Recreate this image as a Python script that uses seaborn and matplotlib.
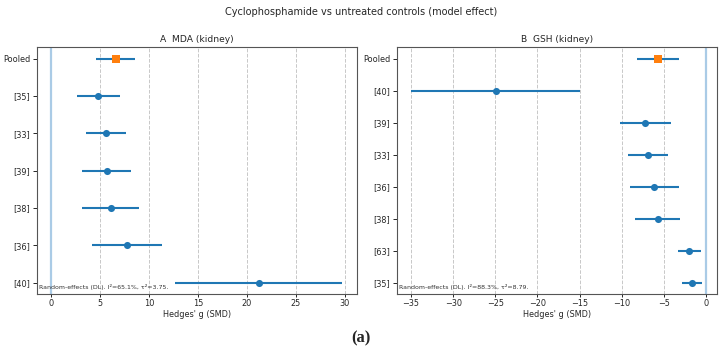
import matplotlib
matplotlib.use("Agg")
import matplotlib.pyplot as plt
import seaborn as sns
import pandas as pd

sns.set_style("ticks")
plt.rcParams['font.family'] = ['DejaVu Sans']

# Panel A: MDA (kidney)
a_labels = ["Pooled", "[35]", "[33]", "[39]", "[38]", "[36]", "[40]"]
a_g = [6.6, 4.83, 5.6, 5.7, 6.1, 7.75, 21.2]
a_lo = [4.6, 2.7, 3.6, 3.2, 3.2, 4.2, 12.65]
a_hi = [8.6, 7.0, 7.65, 8.2, 8.95, 11.3, 29.7]
a_note = "Random-effects (DL). I²=65.1%, τ²=3.75."

# Panel B: GSH (kidney)
b_labels = ["Pooled", "[40]", "[39]", "[33]", "[36]", "[38]", "[63]", "[35]"]
b_g = [-5.69, -24.96, -7.19, -6.83, -6.12, -5.73, -1.97, -1.62]
b_lo = [-8.14, -35.0, -10.19, -9.2, -8.97, -8.41, -3.28, -2.8]
b_hi = [-3.16, -14.97, -4.15, -4.46, -3.24, -3.04, -0.63, -0.43]
b_note = "Random-effects (DL). I²=88.3%, τ²=8.79."

a_ticks = [0, 5, 10, 15, 20, 25, 30]
b_ticks = [-35, -30, -25, -20, -15, -10, -5, 0]

BLUE = "#1f77b4"
ORANGE = "#ff7f0e"

fig, axes = plt.subplots(1, 2, figsize=(7.22, 3.53), dpi=100)
fig.subplots_adjust(left=36.7/722, right=716.7/722, top=1-47.3/353,
                    bottom=1-294/353, wspace=0.125)


def forest(ax, labels, g, lo, hi, note, title, ticks, xlim):
    df = pd.DataFrame({"label": labels, "g": g, "lo": lo, "hi": hi,
                       "pos": list(range(len(labels)))})
    df["kind"] = ["Pooled" if l == "Pooled" else "Study" for l in labels]
    ax.axvline(0, color="#aacbe6", lw=1.6, zorder=1)
    ax.hlines(df["pos"], df["lo"], df["hi"], color=BLUE, lw=1.5, zorder=2)
    st = df[df["kind"] == "Study"]
    pl = df[df["kind"] == "Pooled"]
    sns.scatterplot(data=st, x="g", y="pos", ax=ax, color=BLUE, marker="o",
                    s=26, linewidth=0, zorder=3, legend=False)
    sns.scatterplot(data=pl, x="g", y="pos", ax=ax, color=ORANGE, marker="s",
                    s=40, linewidth=0, zorder=3, legend=False)
    ax.set_yticks(df["pos"])
    ax.set_yticklabels(labels)
    n = len(labels) - 1
    ax.set_ylim(n + 0.05 * n, -0.05 * n)
    ax.set_xlim(*xlim)
    ax.set_xticks(ticks)
    ax.set_xticklabels([str(t).replace("-", "\u2212") for t in ticks])
    ax.grid(axis="x", linestyle="--", color="#c8c8c8", lw=0.7)
    ax.set_axisbelow(True)
    ax.set_ylabel("")
    ax.set_xlabel("Hedges' g (SMD)", fontsize=5.9, labelpad=1.5)
    ax.set_title(title, fontsize=6.6, pad=4)
    ax.tick_params(axis="y", labelsize=5.9, length=3, width=0.7, pad=1.5)
    ax.tick_params(axis="x", labelsize=5.9, length=2.5, width=0.7, pad=1)
    for s in ax.spines.values():
        s.set_visible(True)
        s.set_color("#555555")
        s.set_linewidth(0.8)
    ax.text(0.008, 0.015, note, transform=ax.transAxes, fontsize=4.5,
            ha="left", va="bottom", color="#333333")


forest(axes[0], a_labels, a_g, a_lo, a_hi, a_note, "A  MDA (kidney)",
       a_ticks, (-1.45, 31.2))
forest(axes[1], b_labels, b_g, b_lo, b_hi, b_note, "B  GSH (kidney)",
       b_ticks, (-36.7, 1.27))

fig.suptitle("Cyclophosphamide vs untreated controls (model effect)",
             fontsize=7, y=1-12/353, va="center")
fig.text(0.5, 1-338/353, "(a)", ha="center", va="center", fontsize=12,
         fontweight="bold", family=["Liberation Serif", "DejaVu Serif"])

fig.savefig("out.png", dpi=100)
